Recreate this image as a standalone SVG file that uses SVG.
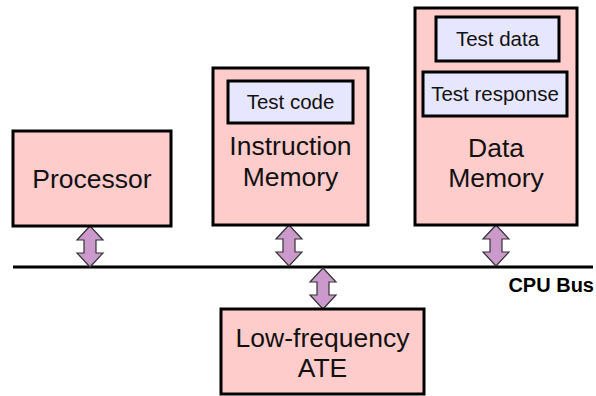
<svg xmlns="http://www.w3.org/2000/svg" width="596" height="396" viewBox="0 0 596 396">
  <style>
    .block { fill: #ffcccc; stroke: #000; stroke-width: 3; }
    .inner { fill: #e6e6ff; stroke: #000; stroke-width: 3; }
    .big { font-family: "Liberation Sans", Arial, sans-serif; font-size: 26.5px; fill: #111; text-anchor: middle; }
    .small { font-family: "Liberation Sans", Arial, sans-serif; font-size: 20.5px; fill: #111; text-anchor: middle; }
    .bus { stroke: #000; stroke-width: 3; fill: none; }
    .busLabel { font-family: "Liberation Sans", Arial, sans-serif; font-size: 20px; font-weight: bold; fill: #000; text-anchor: end; }
    .dbl { fill: #cc99cc; stroke: #333; stroke-width: 1.2; stroke-linejoin: miter; }
  </style>
  <defs>
    <!-- two-headed block arrow, 41px tall, centred on x=0 -->
    <polygon id="dblArrow" class="dbl" points="0,0 13,14 6,14 6,27 13,27 0,41 -13,27 -6,27 -6,14 -13,14"/>
  </defs>

  <g id="connectors">
    <line class="bus" x1="13" y1="267" x2="593" y2="267"/>
    <use href="#dblArrow" transform="translate(90,226)"/>
    <use href="#dblArrow" transform="translate(289,225)"/>
    <use href="#dblArrow" transform="translate(496,225)"/>
    <use href="#dblArrow" transform="translate(323,268)"/>
  </g>

  <g id="processor">
    <rect class="block" x="13" y="131" width="158" height="95"/>
    <text class="big" x="92" y="188">Processor</text>
  </g>

  <g id="instruction-memory">
    <rect class="block" x="213" y="68" width="155" height="157"/>
    <rect class="inner" x="228" y="81" width="125" height="42"/>
    <text class="small" x="290.5" y="109">Test code</text>
    <text class="big" x="290.5" y="155">Instruction</text>
    <text class="big" x="290.5" y="186">Memory</text>
  </g>

  <g id="data-memory">
    <rect class="block" x="415" y="8" width="162" height="217"/>
    <rect class="inner" x="436" y="17" width="123" height="44"/>
    <text class="small" x="497.5" y="46">Test data</text>
    <rect class="inner" x="423" y="72" width="144" height="44"/>
    <text class="small" x="495" y="101">Test response</text>
    <text class="big" x="496" y="157">Data</text>
    <text class="big" x="496" y="187">Memory</text>
  </g>

  <g id="ate">
    <rect class="block" x="221" y="309" width="203" height="85"/>
    <text class="big" x="322.5" y="347">Low-frequency</text>
    <text class="big" x="322.5" y="377">ATE</text>
  </g>

  <text class="busLabel" x="594" y="292">CPU Bus</text>
</svg>
